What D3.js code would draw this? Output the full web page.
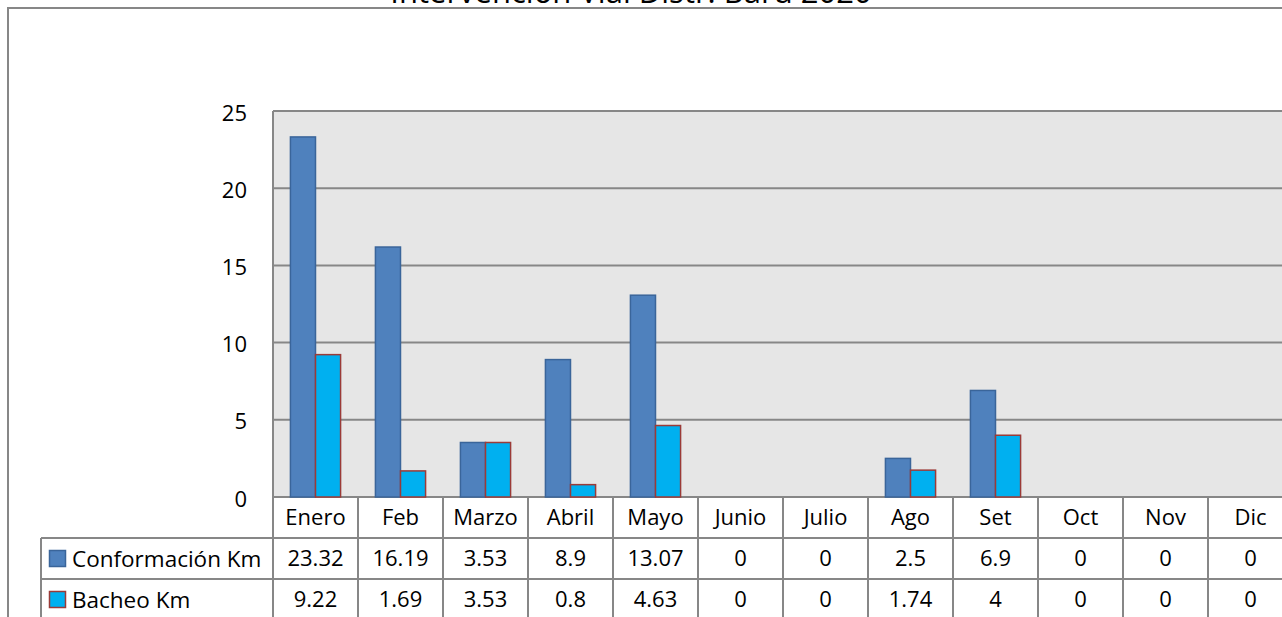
<!DOCTYPE html>
<html>
<head>
<meta charset="utf-8">
<script src="https://cdn.jsdelivr.net/npm/d3@7"></script>
<style>
body { margin: 0; background: #fff; }
svg { display: block; font-family: "Open Sans", sans-serif; }
</style>
</head>
<body>
<script>
// chart data
var months = ["Enero", "Feb", "Marzo", "Abril", "Mayo", "Junio", "Julio", "Ago", "Set", "Oct", "Nov", "Dic"];
var seriesNames = ["Conformación Km", "Bacheo Km"];
var conformacion = [23.32, 16.19, 3.53, 8.9, 13.07, 0, 0, 2.5, 6.9, 0, 0, 0];
var bacheo = [9.22, 1.69, 3.53, 0.8, 4.63, 0, 0, 1.74, 4, 0, 0, 0];
var yTicks = [0, 5, 10, 15, 20, 25];
var title = "Intervención Vial Distr. Baru 2020";

var fills = ["#4f81bd", "#00b0f0"];
var strokes = ["#3a659a", "#9b3b38"];
var lineColor = "#878787";

var W = 1282, H = 617;
var plot = {left: 273, top: 111, right: 1293, bottom: 497};
var rowH = 41;

var svg = d3.select("body").append("svg")
    .attr("width", W)
    .attr("height", H);

// outer chart border
svg.append("rect")
    .attr("x", 8).attr("y", 8)
    .attr("width", W + 20).attr("height", H + 20)
    .attr("fill", "none")
    .attr("stroke", lineColor)
    .attr("stroke-width", 2);

svg.append("text")
    .attr("x", 631)
    .attr("y", 2.5)
    .attr("text-anchor", "middle")
    .attr("font-size", "31px")
    .attr("fill", "#000")
    .text(title);

// scales
var x0 = d3.scaleBand()
    .domain(months)
    .range([plot.left, plot.right])
    .paddingInner(0.41)
    .paddingOuter(0.205);

var x1 = d3.scaleBand()
    .domain([0, 1])
    .range([0, x0.bandwidth()]);

var cols = d3.scaleBand()
    .domain(months)
    .range([plot.left, plot.right]);

var y = d3.scaleLinear()
    .domain([0, 25])
    .range([plot.bottom, plot.top]);

// plot area
svg.append("rect")
    .attr("x", plot.left).attr("y", plot.top)
    .attr("width", plot.right - plot.left)
    .attr("height", plot.bottom - plot.top)
    .attr("fill", "#e6e6e6");

svg.append("g")
    .selectAll("line")
    .data(yTicks)
    .enter().append("line")
    .attr("x1", plot.left).attr("x2", plot.right)
    .attr("y1", function(d) { return y(d); })
    .attr("y2", function(d) { return y(d); })
    .attr("stroke", lineColor)
    .attr("stroke-width", 2);

svg.append("line")
    .attr("x1", plot.left).attr("x2", plot.left)
    .attr("y1", plot.top).attr("y2", H)
    .attr("stroke", lineColor)
    .attr("stroke-width", 2);

// y axis labels
var yAxis = svg.append("g")
    .attr("transform", "translate(" + (plot.left - 23) + ",2)")
    .call(d3.axisLeft(y).tickValues(yTicks).tickSize(0).tickPadding(3));
yAxis.select(".domain").remove();
yAxis.selectAll("text")
    .attr("font-family", "Open Sans, sans-serif")
    .attr("font-size", "22px")
    .attr("fill", "#000");

// bars
var data = months.map(function(m, i) {
    return {month: m, values: [conformacion[i], bacheo[i]]};
});

svg.append("g")
    .selectAll("g")
    .data(data)
    .enter().append("g")
    .attr("transform", function(d) { return "translate(" + x0(d.month) + ",0)"; })
    .selectAll("rect")
    .data(function(d) { return d.values.map(function(v, k) { return {k: k, v: v}; }); })
    .enter().append("rect")
    .filter(function(d) { return d.v > 0; })
    .attr("x", function(d) { return x1(d.k); })
    .attr("y", function(d) { return y(d.v); })
    .attr("width", x1.bandwidth())
    .attr("height", function(d) { return y(0) - y(d.v); })
    .attr("fill", function(d) { return fills[d.k]; })
    .attr("stroke", function(d) { return strokes[d.k]; })
    .attr("stroke-width", 1.5);

// data table
var table = svg.append("g");
var legendLeft = 41;

// horizontal lines
[plot.bottom + rowH, plot.bottom + 2 * rowH].forEach(function(yy) {
    table.append("line")
        .attr("x1", legendLeft).attr("x2", plot.right)
        .attr("y1", yy).attr("y2", yy)
        .attr("stroke", lineColor).attr("stroke-width", 2);
});
table.append("line")
    .attr("x1", legendLeft).attr("x2", legendLeft)
    .attr("y1", plot.bottom + rowH).attr("y2", H)
    .attr("stroke", lineColor).attr("stroke-width", 2);

// column lines
table.selectAll(".col")
    .data(months)
    .enter().append("line")
    .attr("class", "col")
    .attr("x1", function(d) { return cols(d) + cols.bandwidth(); })
    .attr("x2", function(d) { return cols(d) + cols.bandwidth(); })
    .attr("y1", plot.bottom).attr("y2", H)
    .attr("stroke", lineColor).attr("stroke-width", 2);

// header row
table.selectAll(".hdr")
    .data(months)
    .enter().append("text")
    .attr("class", "hdr")
    .attr("x", function(d) { return cols(d) + cols.bandwidth() / 2; })
    .attr("y", plot.bottom + rowH / 2)
    .attr("dy", "0.36em")
    .attr("text-anchor", "middle")
    .attr("font-size", "22px")
    .text(function(d) { return d; });

// value rows
[conformacion, bacheo].forEach(function(vals, r) {
    var cy = plot.bottom + rowH * (r + 1) + rowH / 2;
    table.selectAll(".v" + r)
        .data(vals)
        .enter().append("text")
        .attr("class", "v" + r)
        .attr("x", function(d, i) { return cols(months[i]) + cols.bandwidth() / 2; })
        .attr("y", cy)
        .attr("dy", "0.36em")
        .attr("text-anchor", "middle")
        .attr("font-size", "22px")
        .text(function(d) { return String(d); });

    table.append("rect")
        .attr("x", 49.5).attr("y", cy - 8)
        .attr("width", 16).attr("height", 16)
        .attr("fill", fills[r])
        .attr("stroke", strokes[r])
        .attr("stroke-width", 1.5);

    table.append("text")
        .attr("x", 72)
        .attr("y", cy)
        .attr("dy", "0.36em")
        .attr("font-size", "22.5px")
        .text(seriesNames[r]);
});
</script>
</body>
</html>
